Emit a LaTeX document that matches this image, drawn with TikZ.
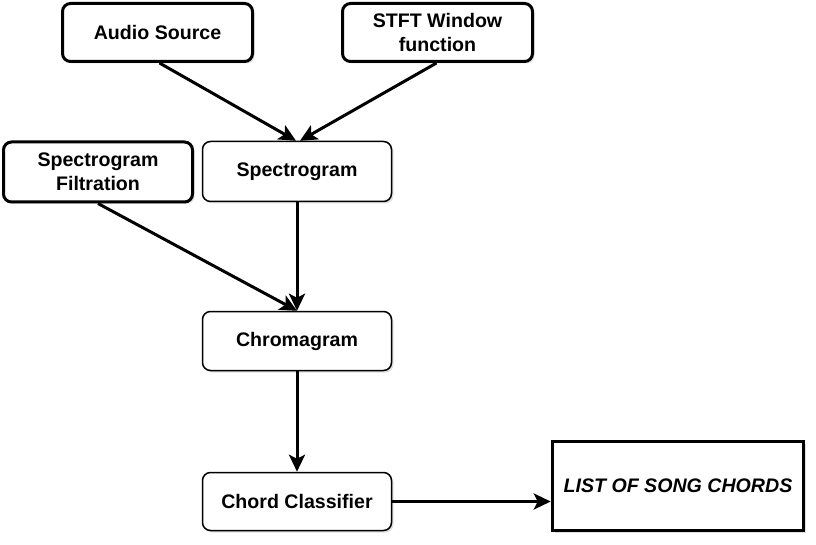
\documentclass[tikz,border=0pt]{standalone}
\usepackage{fontspec}
\setmainfont{Liberation Sans}
\usetikzlibrary{arrows.meta,shadows}
\begin{document}
\begin{tikzpicture}[x=1pt,y=-1pt,
  basebox/.style={draw=black, fill=white, rounded corners=8pt, align=center,
    font=\fontsize{19.6}{23.5}\selectfont\bfseries, inner sep=0pt,
    drop shadow={shadow xshift=2pt, shadow yshift=-2pt, opacity=0.2, fill=black!60}},
  thinbox/.style={basebox, line width=1.5pt},
  thickbox/.style={basebox, line width=3pt},
  outbox/.style={draw=black, fill=white, line width=3.5pt, align=center,
    font=\fontsize{19.6}{23.5}\selectfont\bfseries\itshape, inner sep=0pt,
    drop shadow={shadow xshift=2pt, shadow yshift=-2pt, opacity=0.2, fill=black!60}},
  flow/.style={line width=3pt, -{Stealth[length=17pt, width=16pt, inset=4pt]}}
]
\useasboundingbox (0,0) rectangle (816,545);
\node[thickbox, minimum width=190pt, minimum height=58pt] (audio) at (157.5,32.5) {Audio Source};
\node[thickbox, minimum width=190pt, minimum height=58pt] (stft) at (437.5,32.5) {STFT Window\\function};
\node[thickbox, minimum width=189pt, minimum height=60pt] (filt) at (98,172) {Spectrogram\\Filtration};
\node[thinbox, minimum width=189pt, minimum height=60pt] (spec) at (297,171.5) {Spectrogram};
\node[thinbox, minimum width=189pt, minimum height=59pt] (chroma) at (297,341) {Chromagram};
\node[thinbox, minimum width=189pt, minimum height=58pt] (chord) at (297,501.5) {Chord Classifier};
\node[outbox, minimum width=251pt, minimum height=89pt] (list) at (678,486) {LIST OF SONG CHORDS};

\draw[flow] ([xshift=2pt]audio.south) -- ([xshift=-1pt]spec.north);
\draw[flow] ([xshift=-1pt]stft.south) -- ([xshift=3pt]spec.north);
\draw[flow] (filt.south) -- (chroma.north);
\draw[flow] (spec.south) -- (chroma.north);
\draw[flow] (chroma.south) -- (chord.north);
\draw[flow] (chord.east) -- (chord.east -| list.west);
\end{tikzpicture}
\end{document}
